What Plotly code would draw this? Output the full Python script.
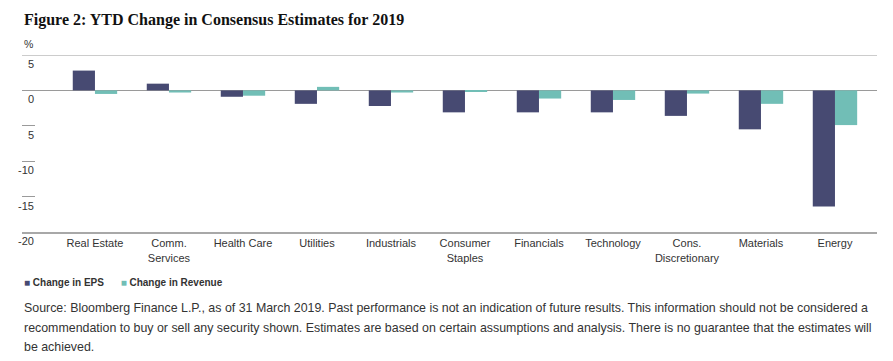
import plotly.graph_objects as go

categories = ["Real Estate", "Comm.<br>Services", "Health Care", "Utilities", "Industrials",
              "Consumer<br>Staples", "Financials", "Technology", "Cons.<br>Discretionary",
              "Materials", "Energy"]
eps_change = [2.8, 0.95, -0.9, -1.9, -2.2, -3.1, -3.1, -3.1, -3.6, -5.5, -16.4]
revenue_change = [-0.5, -0.3, -0.75, 0.5, -0.3, -0.1, -1.15, -1.35, -0.45, -1.9, -4.9]
series_names = ["Change in EPS", "Change in Revenue"]
series_colors = ["#474a72", "#71beb6"]
y_tick_vals = [5, 0, -5, -10, -15, -20]
y_tick_text = ["5", "0", "5", "-10", "-15", "-20"]
grid_vals = [y_tick_vals[0], y_tick_vals[-1]]

title_text = "Figure 2: YTD Change in Consensus Estimates for 2019"
footnote_lines = [
    "Source: Bloomberg Finance L.P., as of 31 March 2019. Past performance is not an indication of future results. This information should not be considered a",
    "recommendation to buy or sell any security shown. Estimates are based on certain assumptions and analysis. There is no guarantee that the estimates will",
    "be achieved.",
]

SANS = "Liberation Sans, Arial, sans-serif"
TXT = "#333333"

x_idx = list(range(len(categories)))
fig = go.Figure()
fig.add_bar(x=x_idx, y=eps_change, name=series_names[0], marker_color=series_colors[0],
            marker_line_width=0)
fig.add_bar(x=x_idx, y=revenue_change, name=series_names[1], marker_color=series_colors[1],
            marker_line_width=0)

fig.update_layout(
    width=885, height=353,
    margin=dict(l=14, r=16, t=47, b=129),
    paper_bgcolor="white", plot_bgcolor="white",
    barmode="group", bargap=0.4, bargroupgap=0,
    showlegend=False,
    font=dict(family=SANS, size=11, color=TXT),
    xaxis=dict(
        tickmode="array", tickvals=x_idx, ticktext=categories,
        range=[-0.986, len(categories) - 1 + 0.568],
        showgrid=False, zeroline=False,
        showline=True, linecolor="#a8a8a8", linewidth=2,
        ticks="", tickfont=dict(family=SANS, size=11, color=TXT),
    ),
    yaxis=dict(
        range=[y_tick_vals[-1], y_tick_vals[0]],
        tickmode="array", tickvals=y_tick_vals, showticklabels=False,
        ticks="inside", ticklen=13, tickcolor="#9a9a9a", tickwidth=1,
        showgrid=False, zeroline=True, zerolinecolor="#9a9a9a", zerolinewidth=1,
        showline=False,
    ),
)

# full-width rule at the top tick value
fig.add_shape(type="line", xref="paper", yref="y", x0=0, x1=1,
              y0=grid_vals[0], y1=grid_vals[0], line=dict(color="#9a9a9a", width=1))

annotations = []
for v, t in zip(y_tick_vals, y_tick_text):
    annotations.append(dict(xref="paper", yref="y", x=0, y=v, xshift=14, yshift=-1,
                            xanchor="right", yanchor="top", text=t, showarrow=False,
                            font=dict(family=SANS, size=11, color=TXT)))
annotations.append(dict(xref="paper", yref="y", x=0, y=y_tick_vals[0], yshift=3,
                        xanchor="left", yanchor="bottom", text="%", showarrow=False,
                        font=dict(family=SANS, size=10.5, color=TXT)))
annotations.append(dict(xref="paper", yref="paper", x=0, y=1, yshift=46,
                        xanchor="left", yanchor="top", text="<b>" + title_text + "</b>",
                        showarrow=False,
                        font=dict(family="Liberation Serif, DejaVu Serif, serif", size=16, color="#111111")))
legend_text = "&nbsp;&nbsp;&nbsp;&nbsp;&nbsp;&nbsp;".join(
    f"<span style='color:{c}'>■</span> <b>{n}</b>" for n, c in zip(series_names, series_colors))
annotations.append(dict(xref="paper", yref="paper", x=0, y=0, yshift=-43,
                        xanchor="left", yanchor="top", text=legend_text, showarrow=False,
                        font=dict(family=SANS, size=10, color=TXT)))
for i, line in enumerate(footnote_lines):
    annotations.append(dict(xref="paper", yref="paper", x=0, y=0, yshift=-67 - 19.5 * i,
                            xanchor="left", yanchor="top", align="left", text=line,
                            showarrow=False,
                            font=dict(family=SANS, size=12.4, color=TXT)))
fig.update_layout(annotations=annotations)

fig.write_html("out.html")
